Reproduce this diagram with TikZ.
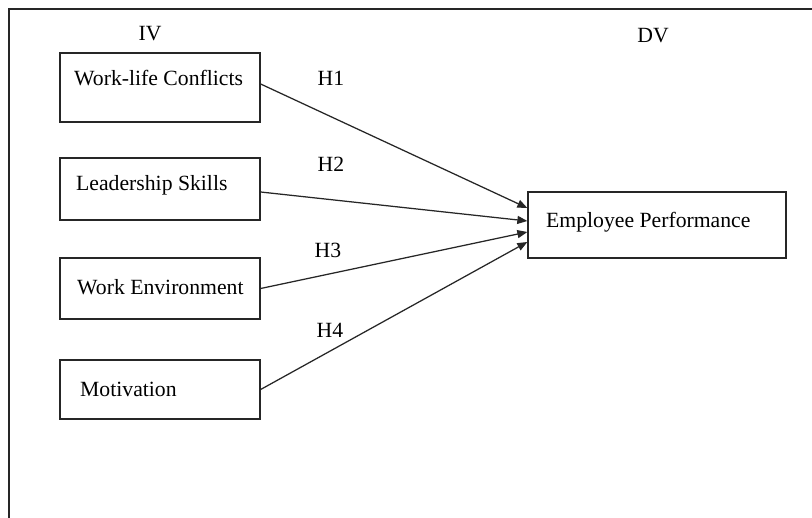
\documentclass[tikz,border=0pt]{standalone}
\usepackage{fontspec}
\setmainfont{Liberation Serif}
\usetikzlibrary{arrows.meta}
\begin{document}
\begin{tikzpicture}[x=1pt,y=-1pt,
  varbox/.style={draw=black!85,line width=1.3pt,rectangle,inner sep=0pt},
  lbl/.style={anchor=base west,inner sep=0pt,font=\fontsize{21.7}{26}\selectfont},
  hlbl/.style={anchor=base,inner sep=0pt,font=\fontsize{21.7}{26}\selectfont},
  link/.style={draw=black!85,line width=1.25pt,-{Triangle[length=10pt,width=8pt]}}]
\useasboundingbox (0,0) rectangle (812,518);
\clip (0,0) rectangle (812,518);
\fill[white] (0,0) rectangle (812,518);
% outer frame (open at right and bottom, clipped)
\draw[black!85,line width=1.3pt] (9,540) -- (9,9) -- (840,9);
% boxes
\node[varbox,minimum width=200pt,minimum height=69pt] (b1) at (160,87.5) {};
\node[varbox,minimum width=200pt,minimum height=62pt] (b2) at (160,189) {};
\node[varbox,minimum width=200pt,minimum height=61pt] (b3) at (160,288.5) {};
\node[varbox,minimum width=200pt,minimum height=59pt] (b4) at (160,389.5) {};
\node[varbox,minimum width=258pt,minimum height=66pt] (dv) at (657,225) {};
% texts
\node[lbl] (t1) at (74,86) {Work-life Conflicts};
\node[lbl] (t2) at (76,191) {Leadership Skills};
\node[lbl] (t3) at (77,295) {Work Environment};
\node[lbl] (t4) at (80,397) {Motivation};
\node[lbl] (t5) at (546,228) {Employee Performance};
\node[hlbl] (iv) at (150,41) {IV};
\node[hlbl] (dvl) at (653,43) {DV};
\node[hlbl] (h1) at (331,86) {H1};
\node[hlbl] (h2) at (331,172) {H2};
\node[hlbl] (h3) at (328,258) {H3};
\node[hlbl] (h4) at (330,338) {H4};
% connectors
\draw[link] ([yshift=3.5pt]b1.east) -- ([yshift=17pt]dv.west);
\draw[link] ([yshift=-3pt]b2.east) -- ([yshift=4pt]dv.west);
\draw[link] (b3.east) -- ([yshift=-7pt]dv.west);
\draw[link] (b4.east) -- ([yshift=-17pt]dv.west);
\end{tikzpicture}
\end{document}
